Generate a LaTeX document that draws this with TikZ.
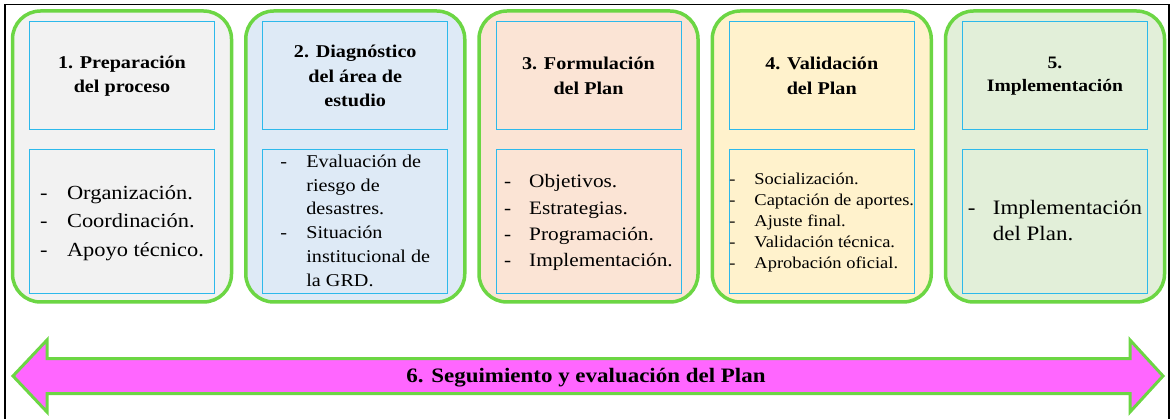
\documentclass[tikz,border=0pt]{standalone}
\usepackage{fontspec}
\setmainfont[FakeStretch=1.12]{Liberation Serif}
\usetikzlibrary{calc}

\definecolor{stagegreen}{RGB}{108,214,68}
\definecolor{boxblue}{RGB}{45,185,235}
\definecolor{fillgray}{HTML}{F2F2F2}
\definecolor{fillblue}{HTML}{DEEAF6}
\definecolor{fillpeach}{HTML}{FBE4D5}
\definecolor{fillyellow}{HTML}{FFF2CC}
\definecolor{fillgreen}{HTML}{E2EFD9}
\definecolor{arrowpink}{HTML}{FF66FF}

\newcommand{\dashitem}[1]{\makebox[#1][l]{-}}

\begin{document}
\begin{tikzpicture}[x=1pt,y=-1pt,
	stagebox/.style={draw=stagegreen, line width=3.5pt, rounded corners=28pt,
		minimum width=219pt, minimum height=291pt, inner sep=0pt},
	headbox/.style={draw=boxblue, line width=1pt, minimum width=185pt,
		minimum height=108pt, inner sep=0pt, align=center,
		font=\fontsize{18}{24.5}\selectfont\bfseries},
	bodybox/.style={draw=boxblue, line width=1pt, minimum width=185pt,
		minimum height=144pt, inner sep=0pt}]

	\path[use as bounding box] (0,0) rectangle (1174,419);

	% ---- frame

	\draw[line width=1.6pt] (5,4.5) rectangle (1169,440);

	% ---- stages

	\foreach \i/\col in {1/fillgray,2/fillblue,3/fillpeach,4/fillyellow,5/fillgreen}
		{ \node[stagebox, fill=\col] (stage\i) at ({122+233.25*(\i-1)},156.5) {}; }

	% ---- titles

	\node[headbox] (head1) at (122,76) {1. Preparación\\del proceso};
	\node[headbox] (head2) at (355.25,76) {2. Diagnóstico\\del área de\\estudio};
	\node[headbox] (head3) at (588.5,76) {3. Formulación\\del Plan};
	\node[headbox] (head4) at (821.75,76) {4. Validación\\del Plan};
	\node[headbox, font=\fontsize{17.5}{23.5}\selectfont\bfseries] (head5) at (1055,76) {5.\\Implementación};

	% ---- contents

	\node[bodybox, font=\fontsize{20}{28.5}\selectfont] (body1) at (122,222)
		{\begin{tabular}{@{}l@{}l@{}}
			\dashitem{27pt} & Organización.\\
			\dashitem{27pt} & Coordinación.\\
			\dashitem{27pt} & Apoyo técnico.
		\end{tabular}};
	\node[bodybox, font=\fontsize{18}{23.8}\selectfont] (body2) at (355.25,222)
		{\begin{tabular}{@{}l@{}l@{}}
			\dashitem{26pt} & Evaluación de\\
			 & riesgo de\\
			 & desastres.\\
			\dashitem{26pt} & Situación\\
			 & institucional de\\
			 & la GRD.
		\end{tabular}};
	\node[bodybox, font=\fontsize{19}{26.3}\selectfont] (body3) at (588.5,222)
		{\begin{tabular}{@{}l@{}l@{}}
			\dashitem{25pt} & Objetivos.\\
			\dashitem{25pt} & Estrategias.\\
			\dashitem{25pt} & Programación.\\
			\dashitem{25pt} & Implementación.
		\end{tabular}};
	\node[bodybox, font=\fontsize{16.5}{21}\selectfont] (body4) at (821.75,222)
		{\begin{tabular}{@{}l@{}l@{}}
			\dashitem{25pt} & Socialización.\\
			\dashitem{25pt} & Captación de aportes.\\
			\dashitem{25pt} & Ajuste final.\\
			\dashitem{25pt} & Validación técnica.\\
			\dashitem{25pt} & Aprobación oficial.
		\end{tabular}};
	\node[bodybox, font=\fontsize{20.5}{26}\selectfont] (body5) at (1055,222)
		{\begin{tabular}{@{}l@{}l@{}}
			\dashitem{25pt} & Implementación\\
			 & del Plan.
		\end{tabular}};

	% ---- follow-up arrow

	\draw[stagegreen, line width=3pt, fill=arrowpink, line join=miter]
		(13,376) -- (47,340) -- (47,358.5) -- (1130,358.5) -- (1130,340)
		-- (1163,376) -- (1130,412) -- (1130,393.5) -- (47,393.5) -- (47,412) -- cycle;
	\node[anchor=base, font=\fontsize{20.5}{24}\selectfont\bfseries] (follow) at (586,382)
		{6. Seguimiento y evaluación del Plan};

\end{tikzpicture}
\end{document}
